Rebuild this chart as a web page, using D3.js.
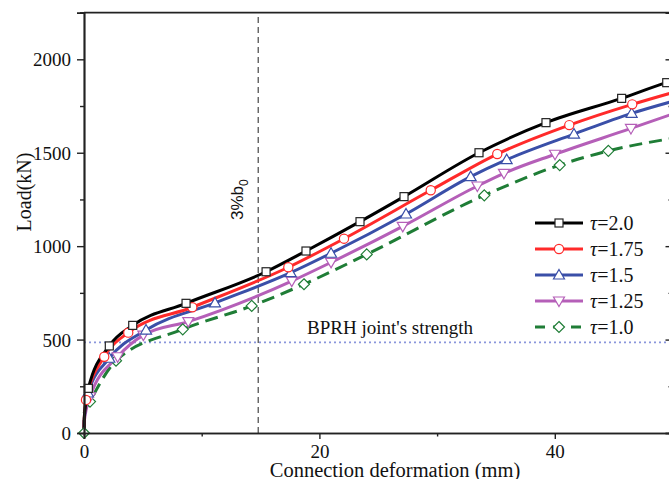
<!DOCTYPE html>
<html>
<head>
<meta charset="utf-8">
<script src="https://cdn.jsdelivr.net/npm/d3@7"></script>
<style>
  html, body { margin: 0; padding: 0; background: #fff; overflow: hidden; }
  svg { display: block; }
  text { font-family: "Liberation Serif", "Times New Roman", serif; fill: #111; }
</style>
</head>
<body>
<div id="chart"></div>
<script>
// data: [deformation (mm), load (kN), marker? 1/0]
const tau20 = [[0,0,0],[0.02,80,0],[0.37,239,1],[2.15,466,1],[4.14,576,1],[8.67,694,1],[15.47,863,1],[18.86,974,1],[23.45,1131,1],[27.19,1265,1],[33.56,1500,1],[39.25,1661,1],[45.68,1791,1],[49.51,1875,1],[50,1884,0]];
const tau175 = [[0,0,0],[0.02,75,0],[0.17,177,1],[1.72,408,1],[3.76,537,1],[9.2,673,1],[17.36,887,1],[22.09,1040,1],[29.46,1299,1],[35.11,1493,1],[41.23,1648,1],[46.58,1759,1],[50,1822,0]];
const tau15 = [[0,0,0],[0.02,70,0],[0.34,214,1],[2.15,400,1],[5.27,551,1],[11.13,696,1],[17.56,858,1],[20.99,962,1],[27.36,1172,1],[32.85,1372,1],[35.91,1463,1],[41.63,1600,1],[46.53,1711,1],[50,1775,0]];
const tau125 = [[0,0,0],[0.02,60,0],[0.51,194,1],[2.86,408,1],[5.04,524,1],[8.86,596,1],[17.65,813,1],[20.99,913,1],[27.08,1106,1],[33.42,1322,1],[35.68,1390,1],[40.02,1492,1],[46.47,1630,1],[50,1707,0]];
const tau10 = [[0,0,1],[0.03,110,0],[0.51,168,1],[2.72,387,1],[8.39,555,1],[14.25,680,1],[18.69,796,1],[24.02,956,1],[34.01,1272,1],[40.42,1434,1],[44.55,1510,1],[50,1577,0]];

const seriesNames = ["τ=2.0", "τ=1.75", "τ=1.5", "τ=1.25", "τ=1.0"];
const seriesData = [tau20, tau175, tau15, tau125, tau10];
const seriesColors = ["#000000", "#ff2a2a", "#3a4fa8", "#b55fb8", "#1f7d36"];
const seriesSymbols = ["square", "circle", "up", "down", "diamond"];

const xTicks = [0, 20, 40];
const xMinor = [10, 30, 50];
const yTicks = [0, 500, 1000, 1500, 2000];
const yMinor = [250, 750, 1250, 1750, 2250];

const deformLimit = 14.8;   // 3%b0
const jointStrength = 485;  // BPRH joint's strength

const W = 669, H = 479;
const margin = { left: 84, top: 12.6, right: -3.5, bottom: 46 };
const innerW = W - margin.left - margin.right;
const innerH = H - margin.top - margin.bottom;

const svg = d3.select("#chart").append("svg")
    .attr("width", W).attr("height", H);

const defs = svg.append("defs");
defs.append("clipPath").attr("id", "plotclip")
    .append("rect").attr("x", -6).attr("y", -6).attr("width", innerW + 12).attr("height", innerH + 12);

const g = svg.append("g").attr("transform", `translate(${margin.left},${margin.top})`);

const x = d3.scaleLinear().domain([0, 50]).range([0, innerW]);
const y = d3.scaleLinear().domain([0, 2250]).range([innerH, 0]);

// reference lines
g.append("line")
    .attr("x1", x(0)).attr("x2", x(50))
    .attr("y1", y(jointStrength)).attr("y2", y(jointStrength))
    .attr("stroke", "#8a96dc").attr("stroke-width", 1.6)
    .attr("stroke-dasharray", "2,3");

g.append("line")
    .attr("x1", x(deformLimit)).attr("x2", x(deformLimit))
    .attr("y1", y(0)).attr("y2", y(2250))
    .attr("stroke", "#333").attr("stroke-width", 1.1)
    .attr("stroke-dasharray", "6,4");

g.append("text")
    .attr("transform", `translate(${x(deformLimit) - 15.5},${y(0) - 213}) rotate(-90)`)
    .style("font-family", "'Liberation Sans', Arial, sans-serif")
    .style("font-size", "17px")
    .text("3%b")
    .append("tspan")
    .attr("dy", 5).style("font-size", "12px").text("0");

g.append("text")
    .attr("x", 223).attr("y", y(jointStrength) - 8)
    .style("font-size", "19px")
    .text("BPRH joint's strength");

// curves
const line = d3.line()
    .x(d => x(d[0]))
    .y(d => y(d[1]))
    .curve(d3.curveMonotoneX);

const plot = g.append("g").attr("clip-path", "url(#plotclip)");

function drawMarker(sel, sym, color) {
    const s = 4;
    if (sym === "square") {
        sel.append("rect").attr("x", -s).attr("y", -s).attr("width", 2 * s).attr("height", 2 * s)
            .attr("fill", "#fff").attr("stroke", "#222").attr("stroke-width", 1.2);
    } else if (sym === "circle") {
        sel.append("circle").attr("r", s + 0.6)
            .attr("fill", "#fff").attr("stroke", color).attr("stroke-width", 1.2);
    } else if (sym === "up") {
        sel.append("path").attr("d", `M0,${-s - 1.5}L${s + 1.5},${s}L${-s - 1.5},${s}Z`)
            .attr("fill", "#fff").attr("stroke", color).attr("stroke-width", 1.2);
    } else if (sym === "down") {
        sel.append("path").attr("d", `M0,${s + 1.5}L${s + 1.5},${-s}L${-s - 1.5},${-s}Z`)
            .attr("fill", "#fff").attr("stroke", color).attr("stroke-width", 1.2);
    } else {
        sel.append("path").attr("d", `M0,${-s - 1.5}L${s + 1.5},0L0,${s + 1.5}L${-s - 1.5},0Z`)
            .attr("fill", "#fff").attr("stroke", color).attr("stroke-width", 1.2);
    }
}

// draw from last to first so black stays on top
for (let i = seriesData.length - 1; i >= 0; i--) {
    const data = seriesData[i];
    plot.append("path")
        .datum(data)
        .attr("d", line)
        .attr("fill", "none")
        .attr("stroke", seriesColors[i])
        .attr("stroke-width", 3)
        .attr("stroke-dasharray", i === 4 ? "13,7" : null);
}
for (let i = seriesData.length - 1; i >= 0; i--) {
    plot.selectAll(null)
        .data(seriesData[i].filter(d => d[2] === 1))
        .enter().append("g")
        .attr("transform", d => `translate(${x(d[0])},${y(d[1])})`)
        .each(function () { drawMarker(d3.select(this), seriesSymbols[i], seriesColors[i]); });
}

// frame and axes
const axisW = 1.7;
g.append("line").attr("x1", 0).attr("x2", innerW).attr("y1", 0).attr("y2", 0)
    .attr("stroke", "#222").attr("stroke-width", axisW);
g.append("line").attr("x1", innerW).attr("x2", innerW).attr("y1", 0).attr("y2", innerH)
    .attr("stroke", "#222").attr("stroke-width", axisW);

const xAxis = g.append("g").attr("transform", `translate(0,${innerH})`)
    .call(d3.axisBottom(x).tickValues(xTicks).tickSize(6).tickPadding(6).tickFormat(d3.format("d")));
const xAxisMinor = g.append("g").attr("transform", `translate(0,${innerH})`)
    .call(d3.axisBottom(x).tickValues(xMinor).tickSize(3.5).tickFormat(""));

const yAxis = g.append("g")
    .call(d3.axisLeft(y).tickValues(yTicks).tickSize(7).tickPadding(6).tickFormat(d3.format("d")));
const yAxisMinor = g.append("g")
    .call(d3.axisLeft(y).tickValues(yMinor).tickSize(4).tickFormat(""));

// mirrored ticks on the right frame (pointing inward)
const yRight = g.append("g").attr("transform", `translate(${innerW},0)`)
    .call(d3.axisRight(y).tickValues(yTicks).tickSize(-7).tickFormat(""));
const yRightMinor = g.append("g").attr("transform", `translate(${innerW},0)`)
    .call(d3.axisRight(y).tickValues(yMinor).tickSize(-4).tickFormat(""));

[xAxis, xAxisMinor, yAxis, yAxisMinor, yRight, yRightMinor].forEach(a => {
    a.select(".domain").attr("stroke", "#222").attr("stroke-width", axisW);
    a.selectAll(".tick line").attr("stroke", "#222").attr("stroke-width", 1.4);
    a.selectAll(".tick text")
        .style("font-family", "'Liberation Serif', 'Times New Roman', serif")
        .style("font-size", "19px").attr("fill", "#111");
});
yAxis.selectAll(".tick text").attr("dy", "0.34em");

// axis titles
svg.append("text")
    .attr("x", margin.left + x(0) + 311).attr("y", 477)
    .attr("text-anchor", "middle")
    .style("font-size", "20.5px")
    .text("Connection deformation (mm)");

svg.append("text")
    .attr("transform", `translate(31,192) rotate(-90)`)
    .attr("text-anchor", "middle")
    .style("font-size", "20px")
    .text("Load(kN)");

// legend
const legend = g.append("g").attr("transform", `translate(${535 - margin.left},${223 - margin.top})`);
seriesNames.forEach((name, i) => {
    const row = legend.append("g").attr("transform", `translate(0,${i * 26})`);
    row.append("line").attr("x1", 0).attr("x2", 48).attr("y1", 0).attr("y2", 0)
        .attr("stroke", seriesColors[i]).attr("stroke-width", 3)
        .attr("stroke-dasharray", i === 4 ? "10,8" : null);
    const m = row.append("g").attr("transform", "translate(24,0)");
    drawMarker(m, seriesSymbols[i], seriesColors[i]);
    const t = row.append("text").attr("x", 55).attr("y", 7).style("font-size", "20px");
    t.append("tspan").style("font-style", "italic").text(name.slice(0, 1));
    t.append("tspan").text(name.slice(1));
});
</script>
</body>
</html>
